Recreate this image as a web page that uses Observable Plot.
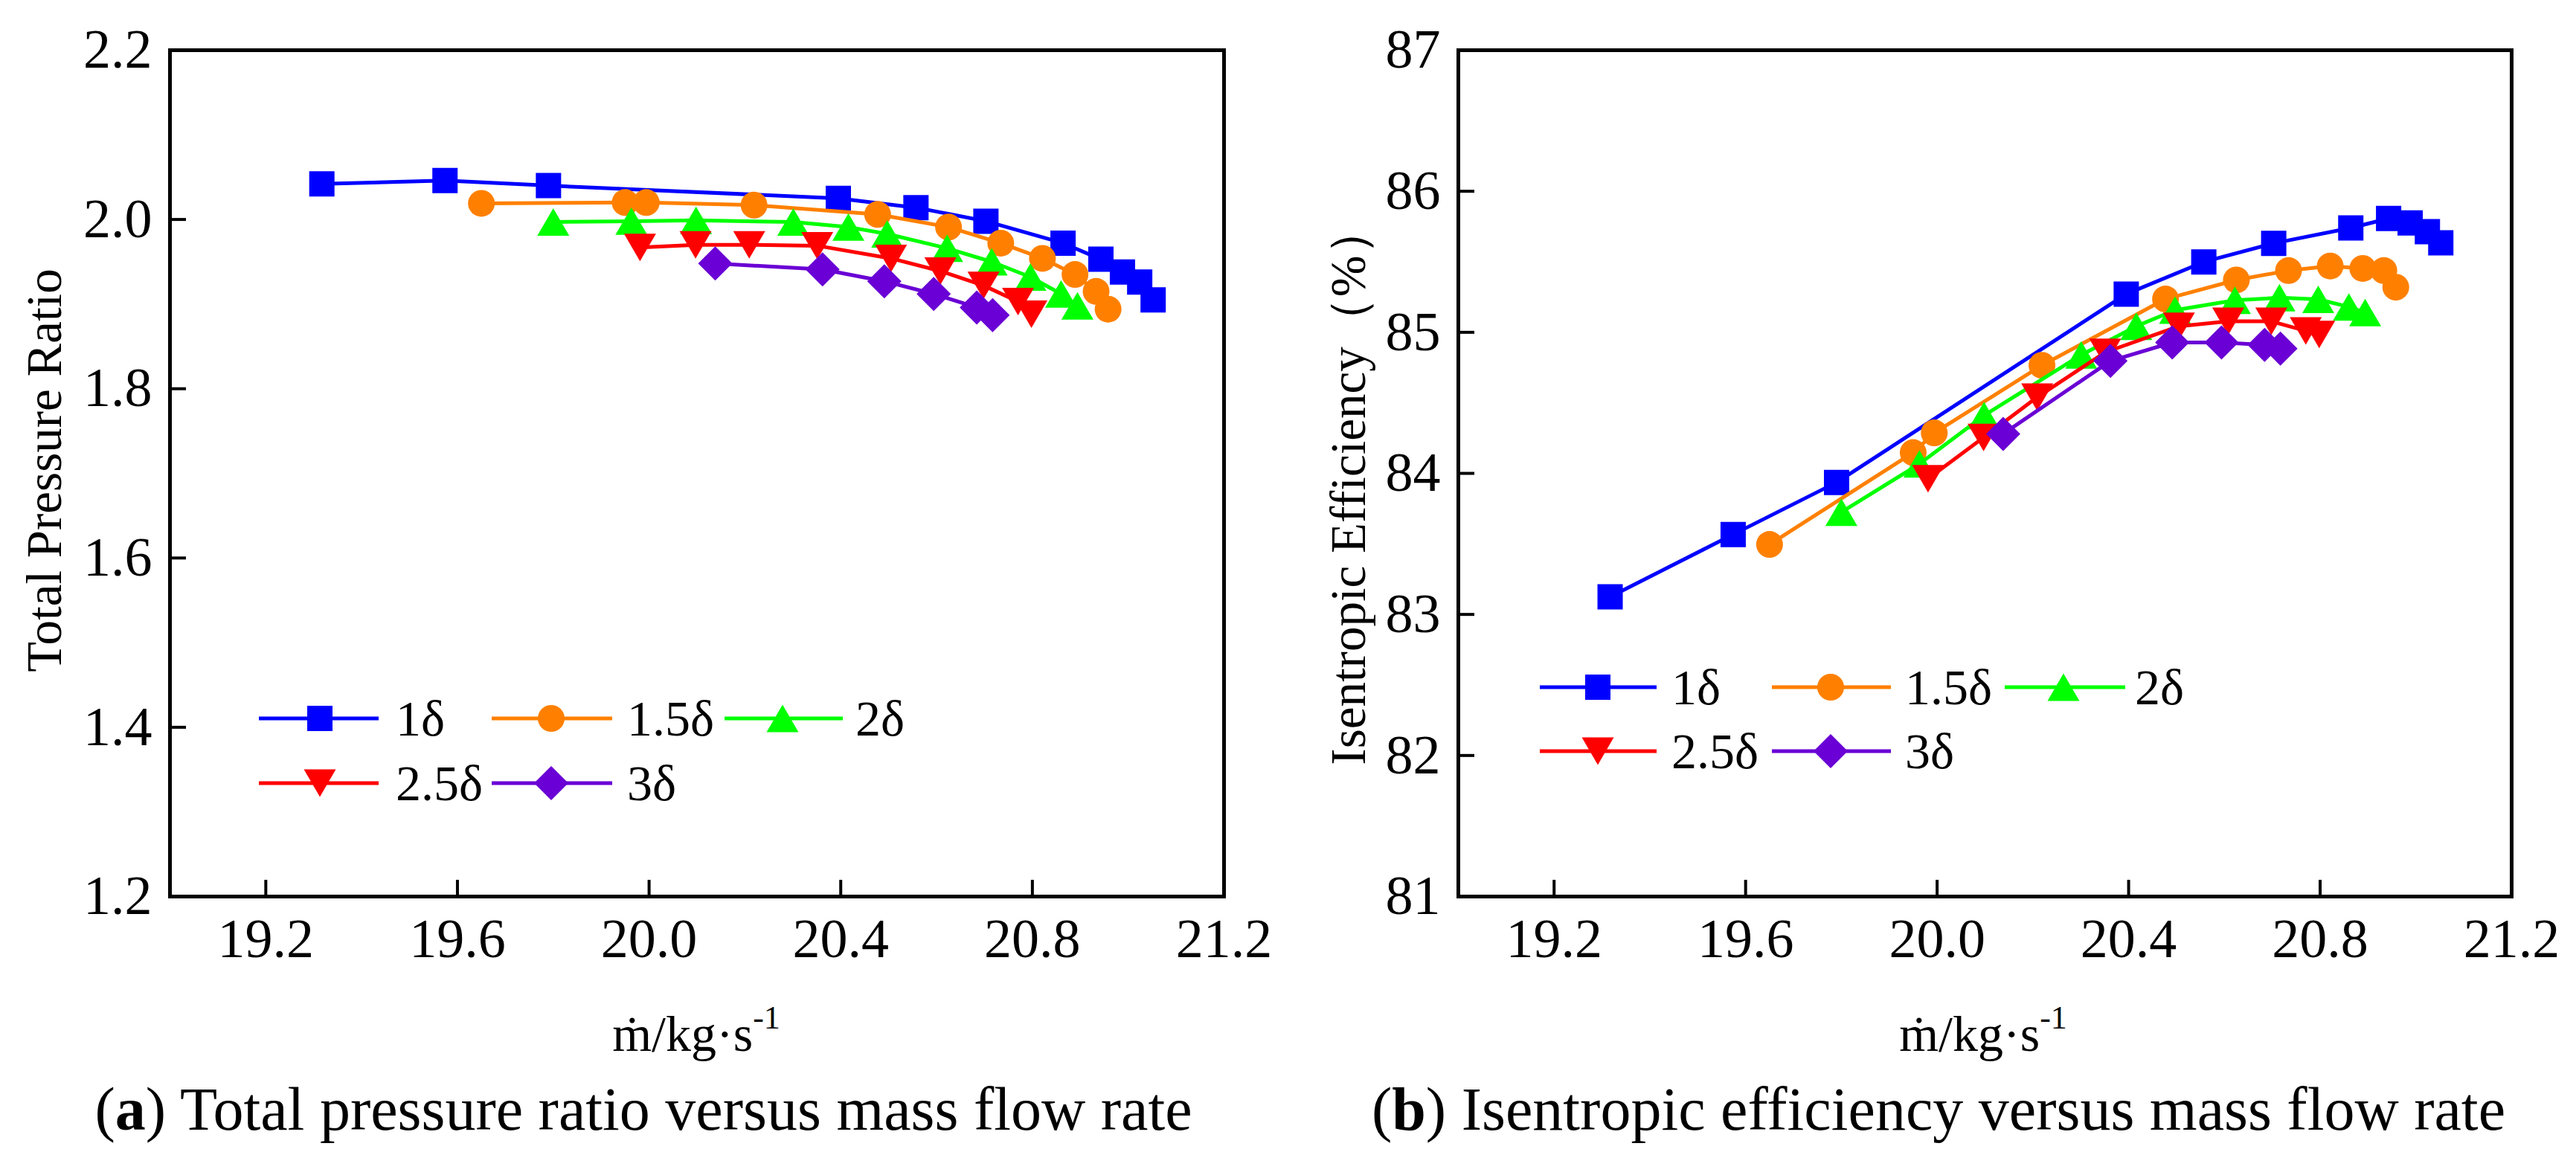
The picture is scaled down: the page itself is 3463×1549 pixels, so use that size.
<!DOCTYPE html>
<html>
<head>
<meta charset="utf-8">
<script src="https://cdn.jsdelivr.net/npm/d3@7"></script>
<script src="https://cdn.jsdelivr.net/npm/@observablehq/plot@0.6"></script>
<style>
  html, body { margin: 0; padding: 0; background: #fff; }
  body { width: 3463px; height: 1549px; position: relative; overflow: hidden; font-family: "Liberation Serif", "Times New Roman", serif; color: #000; }
  .panel { position: absolute; top: 0; }
  .panel svg, .panel svg text { font-family: "Liberation Serif", "Times New Roman", serif !important; }
  .xtitle { position: absolute; top: 1356px; font-size: 68px; line-height: 68px; white-space: nowrap; transform: translateX(-50%); }
  .xtitle sup { font-size: 44px; vertical-align: 30px; line-height: 0; }
  .caption { position: absolute; top: 1451px; font-size: 82px; line-height: 82px; white-space: nowrap; transform: translateX(-50%); }
</style>
</head>
<body>
<div id="left" class="panel" style="left:0px"></div>
<div id="right" class="panel" style="left:1731px"></div>
<div class="xtitle" style="left:936px">ṁ/kg·s<sup>-1</sup></div>
<div class="xtitle" style="left:2666px">ṁ/kg·s<sup>-1</sup></div>
<div class="caption" style="left:865px">(<b>a</b>) Total pressure ratio versus mass flow rate</div>
<div class="caption" style="left:2606px">(<b>b</b>) Isentropic efficiency versus mass flow rate</div>
<script>
// ---------- data ----------
const seriesNames = ["1δ", "1.5δ", "2δ", "2.5δ", "3δ"];
const seriesColors = ["#0000ff", "#ff8000", "#00ff00", "#ff0000", "#6a00d5"];

const xTicks = [19.2, 19.6, 20.0, 20.4, 20.8, 21.2];
const prTicks = [1.2, 1.4, 1.6, 1.8, 2.0, 2.2];
const effTicks = [81, 82, 83, 84, 85, 86, 87];

const flow1 = [19.317, 19.574, 19.790, 20.395, 20.557, 20.703, 20.864, 20.943, 20.988, 21.024, 21.052];
const pr1   = [2.042, 2.046, 2.040, 2.025, 2.014, 1.998, 1.972, 1.953, 1.938, 1.926, 1.905];
const eff1  = [83.125, 83.567, 83.936, 85.271, 85.499, 85.631, 85.740, 85.807, 85.776, 85.714, 85.635];

const flow15 = [19.650, 19.950, 19.994, 20.219, 20.477, 20.625, 20.734, 20.821, 20.889, 20.933, 20.958];
const pr15   = [2.019, 2.020, 2.020, 2.017, 2.006, 1.991, 1.972, 1.954, 1.935, 1.915, 1.894];
const eff15  = [83.496, 84.147, 84.287, 84.766, 85.236, 85.371, 85.438, 85.470, 85.453, 85.438, 85.320];

const flow2 = [19.800, 19.963, 20.098, 20.301, 20.416, 20.497, 20.622, 20.715, 20.796, 20.860, 20.894];
const pr2   = [1.997, 1.998, 1.999, 1.997, 1.991, 1.983, 1.966, 1.950, 1.932, 1.912, 1.898];
const eff2  = [83.725, 84.067, 84.410, 84.840, 85.043, 85.157, 85.227, 85.245, 85.234, 85.180, 85.140];

const flow25 = [19.981, 20.097, 20.209, 20.351, 20.505, 20.608, 20.698, 20.770, 20.798];
const pr25   = [1.967, 1.970, 1.970, 1.969, 1.954, 1.939, 1.922, 1.903, 1.888];
const eff25  = [83.962, 84.255, 84.540, 84.858, 85.043, 85.078, 85.078, 85.010, 84.985];

const flow3 = [20.138, 20.362, 20.491, 20.594, 20.684, 20.717];
const pr3   = [1.948, 1.941, 1.927, 1.912, 1.896, 1.887];
const eff3  = [84.280, 84.797, 84.928, 84.928, 84.911, 84.885];

const flows = [flow1, flow15, flow2, flow25, flow3];
const prs = [pr1, pr15, pr2, pr25, pr3];
const effs = [eff1, eff15, eff2, eff25, eff3];

const FONT = "Liberation Serif, Times New Roman, serif";

// ---------- symbols ----------
function rOf(size) { return Math.sqrt(size / Math.PI); }
const symSquare = { draw(c, size) { const r = rOf(size); c.moveTo(-r, -r); c.lineTo(r, -r); c.lineTo(r, r); c.lineTo(-r, r); c.closePath(); } };
const symCircle = { draw(c, size) { const r = rOf(size); c.moveTo(r, 0); c.arc(0, 0, r, 0, 2 * Math.PI); c.closePath(); } };
const symTriUp = { draw(c, size) { const r = rOf(size); const h = 0.86 * r; c.moveTo(0, -h); c.lineTo(r, h); c.lineTo(-r, h); c.closePath(); } };
const symTriDown = { draw(c, size) { const r = rOf(size); const h = 0.86 * r; c.moveTo(0, h); c.lineTo(r, -h); c.lineTo(-r, -h); c.closePath(); } };
const symDiamond = { draw(c, size) { const r = rOf(size); c.moveTo(0, -r); c.lineTo(r, 0); c.lineTo(0, r); c.lineTo(-r, 0); c.closePath(); } };
const seriesSymbols = [symSquare, symCircle, symTriUp, symTriDown, symDiamond];
const seriesR = [17, 18, 21.5, 21.5, 23];

function rows(i, ys) {
  return flows[i].map((x, j) => ({ series: seriesNames[i], x, y: ys[i][j] }));
}

function makePanel(opts) {
  const marks = [
    Plot.axisX({ ticks: xTicks, tickFormat: d => d.toFixed(1), tickSize: -22, tickPadding: 51, fontSize: 74, fontFamily: FONT, strokeWidth: 4, label: null }),
    Plot.axisY({ ticks: opts.yTicks, tickFormat: opts.yFormat, tickSize: -22, tickPadding: 46, fontSize: 74, fontFamily: FONT, strokeWidth: 4, label: null }),
    Plot.text([opts.yLabel], { frameAnchor: "left", dx: opts.yLabelDx, dy: opts.yLabelDy, rotate: -90, fontSize: 67, fontFamily: FONT, textAnchor: "middle", lineAnchor: "middle", fill: "black" })
  ];
  for (let i = 0; i < seriesNames.length; i++) {
    const d = rows(i, opts.ys);
    marks.push(Plot.line(d, { x: "x", y: "y", stroke: seriesColors[i], strokeWidth: 5 }));
    marks.push(Plot.dot(d, { x: "x", y: "y", symbol: seriesSymbols[i], r: seriesR[i], fill: seriesColors[i], stroke: "none" }));
  }
  marks.push(Plot.frame({ stroke: "black", strokeWidth: 5 }));
  const svg = Plot.plot({
    width: opts.width, height: 1330,
    marginLeft: opts.marginLeft, marginRight: opts.marginRight, marginTop: 67, marginBottom: 125,
    style: { fontFamily: FONT, background: "white", overflow: "visible", color: "black" },
    x: { domain: [19.0, 21.2] },
    y: { domain: opts.yDomain },
    marks
  });
  d3.select(svg).attr("font-family", FONT);
  // legend
  const g = d3.select(svg).append("g").attr("class", "legend").attr("text-anchor", "start");
  const L = opts.legend;
  const slots = [[0, 0], [0, 1], [0, 2], [1, 0], [1, 1]];
  slots.forEach(([row, col], i) => {
    const y = L.rows[row], c = L.cols[col];
    g.append("line").attr("x1", c.x1).attr("x2", c.x2).attr("y1", y).attr("y2", y)
      .attr("stroke", seriesColors[i]).attr("stroke-width", 5);
    const p = d3.path();
    const r = seriesR[i];
    seriesSymbols[i].draw(p, r * r * Math.PI);
    g.append("path").attr("d", p.toString()).attr("transform", `translate(${c.m},${y})`).attr("fill", seriesColors[i]);
    g.append("text").attr("x", c.t).attr("y", y + 23).attr("font-size", 68).attr("text-anchor", "start")
      .attr("font-family", FONT).attr("fill", "black").text(seriesNames[i]);
  });
  return svg;
}

document.getElementById("left").appendChild(makePanel({
  width: 1731, marginLeft: 228, marginRight: 86,
  ys: prs, yDomain: [1.2, 2.2], yTicks: prTicks, yFormat: d => d.toFixed(1),
  yLabel: "Total Pressure Ratio", yLabelDx: -168, yLabelDy: -4,
  legend: { rows: [966, 1053], cols: [{ x1: 348, x2: 509, m: 430, t: 532 }, { x1: 661, x2: 823, m: 741, t: 843 }, { x1: 974, x2: 1133, m: 1052, t: 1150 }] }
}));

document.getElementById("right").appendChild(makePanel({
  width: 1732, marginLeft: 229, marginRight: 87,
  ys: effs, yDomain: [81, 87], yTicks: effTicks, yFormat: d => String(d),
  yLabel: "Isentropic Efficiency（%）", yLabelDx: -147, yLabelDy: 16,
  legend: { rows: [924, 1010], cols: [{ x1: 339, x2: 496, m: 417, t: 516 }, { x1: 651, x2: 811, m: 730, t: 830 }, { x1: 964, x2: 1126, m: 1043, t: 1139 }] }
}));
</script>
</body>
</html>
